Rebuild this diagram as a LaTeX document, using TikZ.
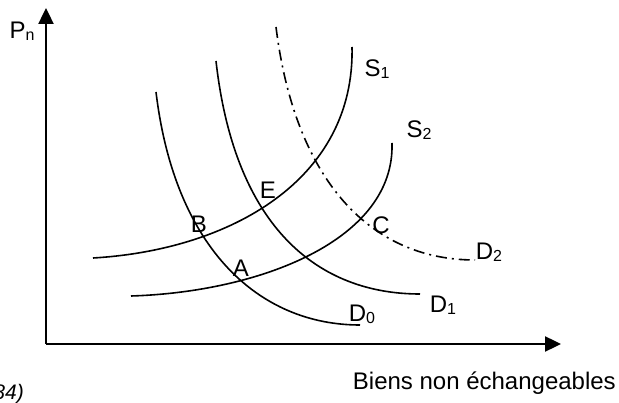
\documentclass[tikz,border=0pt]{standalone}
\usepackage{fontspec}
\setmainfont{Liberation Sans}
\usepackage{tikz}
\usetikzlibrary{arrows.meta,positioning}
\newcommand{\sub}[1]{{\fontsize{16}{16}\selectfont\raisebox{-2pt}{#1}}}
\tikzset{
  axis/.style={line width=2.4pt,-{Triangle[length=16pt,width=15pt]}},
  curve/.style={line width=1.6pt},
  shifted/.style={curve,dash pattern=on 11pt off 5pt on 2pt off 5pt},
  lbl/.style={inner sep=0pt,font=\fontsize{24}{24}\selectfont},
}
\begin{document}
\begin{tikzpicture}[x=1pt,y=-1pt]
\useasboundingbox (0,0) rectangle (619,403);
\clip (0,0) rectangle (619,403);
\coordinate (origin) at (46,344);
\coordinate (ytop) at (46,8);
\coordinate (xend) at (561,344);
\draw[axis] (origin) -- (ytop);
\draw[axis] (origin) -- (xend);

% demand curves
\draw[curve] (156,92) .. controls (175,250) and (260,325) .. (360,325);
\draw[curve] (216,61) .. controls (235,230) and (320,294) .. (420,294);
\draw[shifted] (276,27) .. controls (295,180) and (370,260) .. (475,260);
% supply curves
\draw[curve] (93,258) .. controls (230,250) and (355,180) .. (352,47);
\draw[curve] (131,296) .. controls (260,292) and (395,240) .. (392,143);

\node[lbl] (pn) at (22,31) {P\sub{n}};
\node[lbl] (s1) at (377,69) {S\sub{1}};
\node[lbl] (s2) at (419,130) {S\sub{2}};
\node[lbl] (d0) at (362,314) {D\sub{0}};
\node[lbl] (d1) at (443,305) {D\sub{1}};
\node[lbl] (d2) at (489,252) {D\sub{2}};
\node[lbl] (e) at (268,190) {E};
\node[lbl] (b) at (199,224) {B};
\node[lbl] (a) at (241,268) {A};
\node[lbl] (c) at (381,225) {C};
\node[lbl,anchor=east] (xlab) at (616,383) {Biens non échangeables};
\node[lbl,anchor=east,font=\fontsize{21}{21}\selectfont\itshape] (src) at (24,394) {84)};
\end{tikzpicture}
\end{document}
